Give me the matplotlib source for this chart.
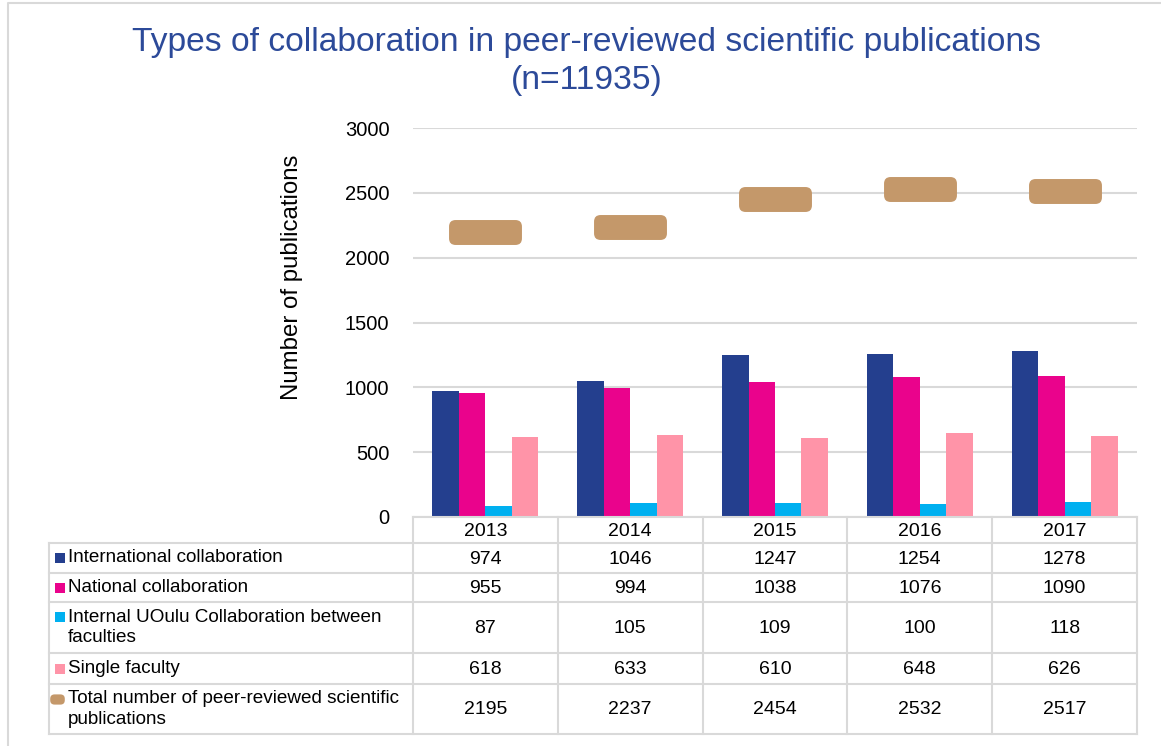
import matplotlib.pyplot as plt
from matplotlib.patches import BoxStyle

plt.rcParams['font.family'] = ['Liberation Sans', 'DejaVu Sans']

years = ["2013", "2014", "2015", "2016", "2017"]
international = [974, 1046, 1247, 1254, 1278]
national = [955, 994, 1038, 1076, 1090]
internal = [87, 105, 109, 100, 118]
single = [618, 633, 610, 648, 626]
total = [2195, 2237, 2454, 2532, 2517]

series_names = ["International collaboration",
                "National collaboration",
                "Internal UOulu Collaboration between\nfaculties",
                "Single faculty",
                "Total number of peer-reviewed scientific\npublications"]
colors = ["#243F8E", "#EA038C", "#00B0F0", "#FF94A8", "#C4986A"]
grid_c = "#D9D9D9"

W, H = 1161, 746
fig = plt.figure(figsize=(W / 100, H / 100), dpi=100)

# pixel positions of the plot area
x0, x1, ytop, ybot = 413, 1137, 128, 517
ax = fig.add_axes([x0 / W, 1 - ybot / H, (x1 - x0) / W, (ybot - ytop) / H])

n = len(years)
xs = list(range(n))
bw = 0.183
bar_series = [international, national, internal, single]
for i, vals in enumerate(bar_series):
    ax.bar([x + (i - 1.5) * bw for x in xs], vals, width=bw, color=colors[i], zorder=3)

# rounded-rectangle marker for the totals
rr = BoxStyle("Round", pad=0, rounding_size=0.09)(-0.5, -0.171, 1.0, 0.342, 1.0)
ax.plot(xs, total, linestyle="none", marker=rr, ms=52.5, color=colors[4],
        markeredgewidth=0, zorder=4)

ax.set_xlim(-0.5, n - 0.5)
ax.set_ylim(0, 3000)
ax.set_yticks(range(0, 3001, 500))
ax.set_xticks([])
ax.tick_params(axis="y", length=0, pad=17, labelsize=14.5)
ax.grid(axis="y", color=grid_c, lw=1.5, zorder=0)
for s in ax.spines.values():
    s.set_visible(False)

fig.text(292 / W, 1 - 277 / H, "Number of publications", rotation=90,
         ha="center", va="center", fontsize=17.3)

fig.text(587 / W, 1 - 43 / H, "Types of collaboration in peer-reviewed scientific publications",
         ha="center", va="center", fontsize=24.2, color="#2C4A99")
fig.text(587 / W, 1 - 80 / H, "(n=11935)", ha="center", va="center", fontsize=24.2,
         color="#2C4A99")

# overlay in pixel coords for table and frame
ov = fig.add_axes([0, 0, 1, 1], facecolor="none")
ov.set_xlim(0, W)
ov.set_ylim(H, 0)
ov.axis("off")

ov.plot([8, 8, W], [H, 3, 3], color=grid_c, lw=1.5)

col_edges = [x0 + i * (x1 - x0) / n for i in range(n + 1)]
row_edges = [543, 573, 602, 653, 684, 734]
tl = 49

ov.plot([x0, x1], [ybot, ybot], color=grid_c, lw=1.5)
for r in row_edges:
    ov.plot([tl, x1], [r, r], color=grid_c, lw=1.5)
ov.plot([tl, tl], [row_edges[0], row_edges[-1]], color=grid_c, lw=1.5)
for c in col_edges:
    ov.plot([c, c], [ybot, row_edges[-1]], color=grid_c, lw=1.5)

for j, yr in enumerate(years):
    ov.text((col_edges[j] + col_edges[j + 1]) / 2, (ybot + row_edges[0]) / 2 + 1, yr,
            ha="center", va="center", fontsize=14)

key_rr = BoxStyle("Round", pad=0, rounding_size=0.3)(-0.5, -0.35, 1.0, 0.7, 1.0)
all_vals = [international, national, internal, single, total]
for i, (name, vals) in enumerate(zip(series_names, all_vals)):
    yc = (row_edges[i] + row_edges[i + 1]) / 2
    ov.text(68, yc, name, ha="left", va="center", fontsize=13.6, linespacing=1.3)
    for j, v in enumerate(vals):
        ov.text((col_edges[j] + col_edges[j + 1]) / 2, yc + 1, str(v),
                ha="center", va="center", fontsize=14)
    key_y = yc if "\n" not in name else row_edges[i] + 15
    if i < 4:
        ov.plot(59.5, key_y, marker="s", ms=7, color=colors[i], markeredgewidth=0)
    else:
        ov.plot(57, key_y, marker=key_rr, ms=10.5, color=colors[i], markeredgewidth=0)

fig.savefig("out.png", dpi=100)
